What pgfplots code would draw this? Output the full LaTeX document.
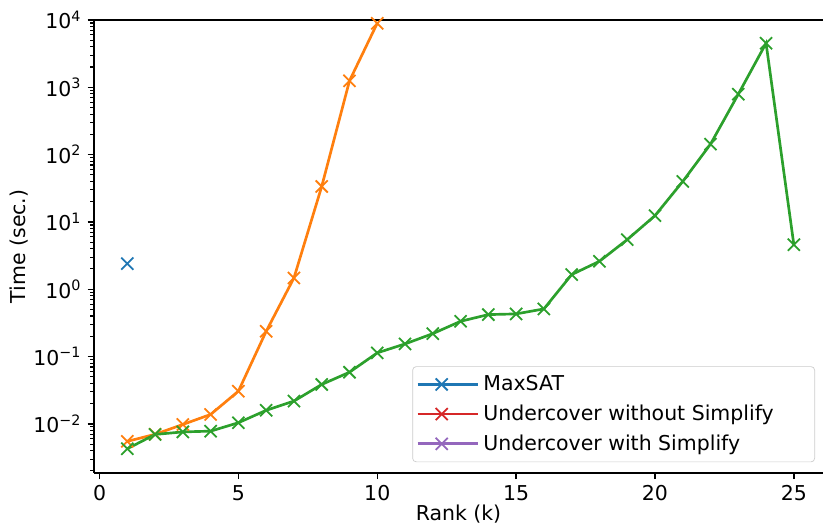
\documentclass[border=0pt]{standalone}
\usepackage{fontspec}
\setmainfont{DejaVu Sans}
\usepackage{pgfplots}
\pgfplotsset{compat=1.18}
\definecolor{mplblue}{HTML}{1F77B4}
\definecolor{mplorange}{HTML}{FF7F0E}
\definecolor{mplgreen}{HTML}{2CA02C}
\definecolor{mplred}{HTML}{D62728}
\definecolor{mplpurple}{HTML}{9467BD}

\begin{document}
\begin{tikzpicture}
\begin{axis}[
  scale only axis,
  width=409.6pt, height=254.5pt,
  xmin=-0.2, xmax=26.05,
  ymode=log, ymin=1.87e-3, ymax=1e4,
  axis y line*=left,
  tick align=outside,
  xtick pos=bottom, ytick pos=left,
  xtick={0,5,...,25},
  ytick={1e-2,1e-1,1,10,100,1000,10000},
  yticklabels={10\textsuperscript{−2},10\textsuperscript{−1},10\textsuperscript{0},10\textsuperscript{1},10\textsuperscript{2},10\textsuperscript{3},10\textsuperscript{4}},
  minor ytick={2e-3,3e-3,4e-3,5e-3,6e-3,7e-3,8e-3,9e-3,
    2e-2,3e-2,4e-2,5e-2,6e-2,7e-2,8e-2,9e-2,
    0.2,0.3,0.4,0.5,0.6,0.7,0.8,0.9,
    2,3,4,5,6,7,8,9,
    20,30,40,50,60,70,80,90,
    200,300,400,500,600,700,800,900,
    2000,3000,4000,5000,6000,7000,8000,9000},
  major tick length=3.5pt, minor tick length=2pt,
  every tick/.style={black, line width=0.8pt},
  every minor tick/.style={black, line width=0.6pt},
  axis line style={line width=0.8pt},
  /pgf/number format/assume math mode=true,
  ticklabel style={font=\fontsize{11.5}{13}\selectfont},
  label style={font=\fontsize{11.5}{13}\selectfont},
  xlabel={Rank (k)},
  ylabel={Time (sec.)},
  xlabel style={at={(rel axis cs:0.5,0)}, anchor=base, inner sep=0pt, yshift=-27pt},
  ylabel style={at={(rel axis cs:0,0.5)}, anchor=south, inner sep=0pt, yshift=37pt},
  legend style={at={(1,0)}, anchor=south east, xshift=-4.5pt, yshift=6pt,
    draw=black!20, rounded corners=2pt, fill=white, fill opacity=0.8, text opacity=1,
    font=\fontsize{11.5}{14}\selectfont, row sep=2.5pt, inner xsep=2pt, inner ysep=3pt},
  legend cell align=left,
  legend image code/.code={
    \path (-0.05cm,0cm) -- (1.15cm,0cm);
    \draw[#1] (0cm,0cm) -- (0.85cm,0cm);
    \draw[#1, mark repeat=2, mark phase=2] plot coordinates {(0cm,0cm) (0.425cm,0cm) (0.85cm,0cm)};
  },
]
\addlegendimage{mplblue, line width=1.6pt, mark=x, mark size=4.8pt, mark options={line width=1pt}}
\addlegendentry{MaxSAT}
\addlegendimage{mplred, line width=1.6pt, mark=x, mark size=4.8pt, mark options={line width=1pt}}
\addlegendentry{Undercover without Simplify\hspace*{19pt}}
\addlegendimage{mplpurple, line width=1.6pt, mark=x, mark size=4.8pt, mark options={line width=1pt}}
\addlegendentry{Undercover with Simplify}

\addplot[forget plot, mplblue, only marks, mark=x, mark size=4.8pt, mark options={line width=1pt}] coordinates {(1,2.4)};

\addplot[forget plot, mplorange, line width=1.5pt, mark=x, mark size=4.8pt, mark options={line width=1pt}] coordinates {
(1,0.0055) (2,0.0070) (3,0.0098) (4,0.0138) (5,0.0306)
(6,0.237) (7,1.47) (8,33.6) (9,1245) (10,8920)
};

\addplot[forget plot, mplgreen, line width=1.5pt, mark=x, mark size=4.8pt, mark options={line width=1pt}] coordinates {
(1,0.00427) (2,0.00697) (3,0.0076) (4,0.0078) (5,0.0104)
(6,0.0159) (7,0.0218) (8,0.0385) (9,0.0585) (10,0.1135)
(11,0.154) (12,0.219) (13,0.334) (14,0.42) (15,0.43)
(16,0.51) (17,1.65) (18,2.6) (19,5.45) (20,12.4)
(21,39.9) (22,143) (23,789) (24,4510) (25,4.59)
};
\end{axis}
\pgfresetboundingbox
\path ([shift={(-52.8pt,-30.5pt)}]current axis.south west) rectangle ([shift={(0pt,11.2pt)}]current axis.north east);
\end{tikzpicture}
\end{document}
